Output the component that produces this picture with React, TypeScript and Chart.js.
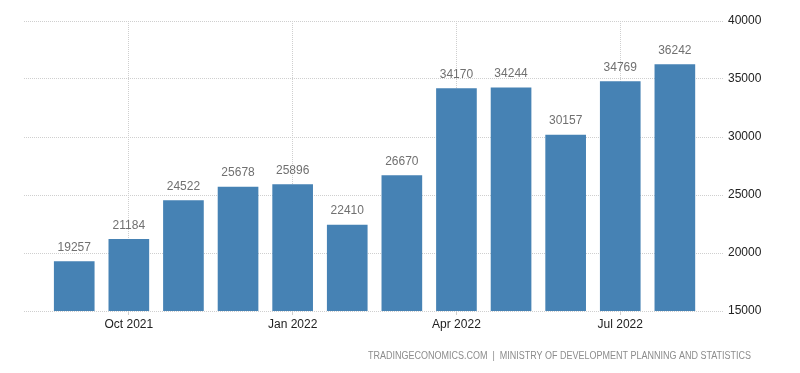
import React, { useEffect, useRef } from "react";
import { Chart, registerables } from "chart.js";

Chart.register(...registerables);

const categories = [
  "Sep 2021", "Oct 2021", "Nov 2021", "Dec 2021", "Jan 2022", "Feb 2022",
  "Mar 2022", "Apr 2022", "May 2022", "Jun 2022", "Jul 2022", "Aug 2022",
];
const values = [19257, 21184, 24522, 25678, 25896, 22410, 26670, 34170, 34244, 30157, 34769, 36242];
const xTickLabels = ["Oct 2021", "Jan 2022", "Apr 2022", "Jul 2022"];
const yTicks = [15000, 20000, 25000, 30000, 35000, 40000];
const sourceText = "TRADINGECONOMICS.COM  |  MINISTRY OF DEVELOPMENT PLANNING AND STATISTICS";

const FONT = "'Liberation Sans', Arial, sans-serif";

export default function App() {
  const ref = useRef<HTMLCanvasElement | null>(null);

  useEffect(() => {
    document.body.style.margin = "0";
    const canvas = ref.current;
    if (!canvas) return;

    const tickIdx = xTickLabels.map((l) => categories.indexOf(l));

    const labelPlugin = {
      id: "valueLabels",
      afterDatasetsDraw(chart: any) {
        const ctx = chart.ctx;
        const meta = chart.getDatasetMeta(0);
        ctx.save();
        ctx.font = `12px ${FONT}`;
        ctx.fillStyle = "#707070";
        ctx.textAlign = "center";
        ctx.textBaseline = "middle";
        meta.data.forEach((bar: any, i: number) => {
          ctx.fillText(String(values[i]), bar.x, bar.y - 14);
        });
        ctx.restore();
      },
      afterDraw(chart: any) {
        const ctx = chart.ctx;
        ctx.save();
        ctx.font = `10px ${FONT}`;
        ctx.fillStyle = "#8c8c8c";
        ctx.textBaseline = "middle";
        ctx.textAlign = "left";
        const target = 383;
        const w = ctx.measureText(sourceText).width;
        const sx = target / w;
        ctx.translate(751 - target, 356);
        ctx.scale(sx, 1);
        ctx.fillText(sourceText, 0, 0);
        ctx.restore();
      },
    };

    const chart = new Chart(canvas, {
      type: "bar",
      data: {
        datasets: [
          {
            data: values.map((v, i) => ({ x: i, y: v })),
            backgroundColor: "#4682b4",
            borderWidth: 0,
            barThickness: 40,
          },
        ],
      },
      options: {
        animation: false,
        responsive: false,
        maintainAspectRatio: false,
        layout: { padding: { left: 24, top: 21, right: 0, bottom: 0 } },
        plugins: {
          legend: { display: false },
          tooltip: { enabled: false },
        },
        scales: {
          x: {
            type: "linear",
            offset: false,
            min: -0.92,
            max: 11.9,
            afterBuildTicks: (scale: any) => {
              scale.ticks = tickIdx.map((v) => ({ value: v }));
            },
            afterFit: (scale: any) => {
              scale.height = 62;
            },
            ticks: {
              autoSkip: false,
              maxRotation: 0,
              padding: 2,
              color: "#222",
              font: { family: FONT, size: 12 },
              callback: (v: any) => categories[Number(v)] ?? "",
            },
            grid: {
              offset: false,
              color: "#cfcfcf",
              lineWidth: 1,
              tickLength: 4,
              tickColor: "#cfcfcf",
            },
            border: { display: false, dash: [1, 1] },
          },
          y: {
            position: "right",
            min: 15000,
            max: 40000,
            afterBuildTicks: (scale: any) => {
              scale.ticks = yTicks.map((v) => ({ value: v }));
            },
            afterFit: (scale: any) => {
              scale.width = 76;
            },
            ticks: {
              padding: 4,
              color: "#222",
              font: { family: FONT, size: 12 },
              callback: (v: any) => String(v),
            },
            grid: {
              color: "#cfcfcf",
              lineWidth: 1,
              drawTicks: false,
            },
            border: { display: false, dash: [1, 1] },
          },
        },
      },
      plugins: [labelPlugin],
    } as any);

    return () => chart.destroy();
  }, []);

  return (
    <div style={{ width: 800, height: 373 }}>
      <canvas ref={ref} width={800} height={373} style={{ display: "block" }} />
    </div>
  );
}
